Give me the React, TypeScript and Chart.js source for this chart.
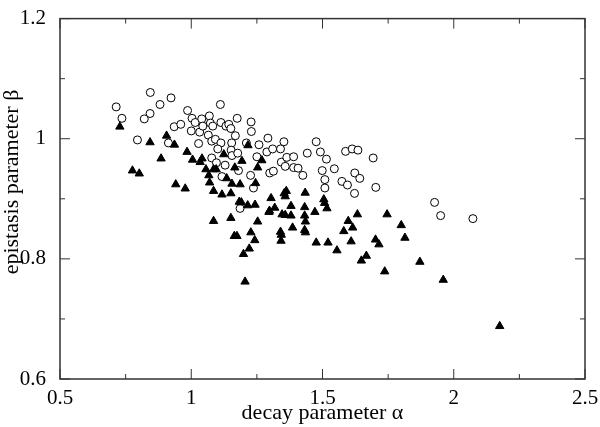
import { useEffect, useRef } from "react"
import { Chart, registerables } from "chart.js"

Chart.register(...registerables)

// open circles
const circleAlpha = [
  0.714, 0.736, 0.844, 0.843, 0.821, 0.881, 0.923, 0.795, 0.913, 0.935, 0.96, 0.986,
  1.003, 1.0, 1.015, 1.04, 1.032, 1.028, 1.044, 1.069, 1.073, 1.082, 1.065, 1.078,
  1.092, 1.111, 1.113, 1.132, 1.143, 1.151, 1.113, 1.101, 1.154, 1.168, 1.175, 1.078,
  1.096, 1.152, 1.155, 1.177, 1.18, 1.117, 1.129, 1.21, 1.228, 1.229, 1.258, 1.25,
  1.226, 1.237, 1.292, 1.288, 1.31, 1.34, 1.353, 1.343, 1.364, 1.358, 1.39, 1.39,
  1.407, 1.425, 1.299, 1.313, 1.186, 1.442, 1.476, 1.492, 1.515, 1.499, 1.545, 1.509,
  1.509, 1.574, 1.595, 1.588, 1.613, 1.635, 1.623, 1.642, 1.622, 1.693, 1.703, 1.927,
  1.95, 2.073,
]
const circleBeta = [
  1.053, 1.034, 1.077, 1.042, 1.033, 1.057, 1.068, 0.998, 0.993, 1.02, 1.024, 1.047,
  1.034, 1.013, 1.027, 1.033, 1.011, 0.992, 1.021, 1.038, 1.026, 1.021, 1.006, 0.996,
  0.999, 1.057, 1.027, 1.021, 1.024, 1.017, 0.993, 0.983, 0.993, 1.005, 1.034, 0.968,
  0.96, 0.981, 0.972, 0.976, 0.947, 0.937, 0.956, 0.993, 1.028, 1.012, 0.99, 0.97,
  0.939, 0.918, 1.001, 0.978, 0.983, 0.983, 0.995, 0.961, 0.969, 0.954, 0.97, 0.952,
  0.951, 0.939, 0.943, 0.946, 0.884, 0.976, 0.995, 0.978, 0.966, 0.947, 0.95, 0.932,
  0.918, 0.929, 0.923, 0.979, 0.983, 0.981, 0.943, 0.934, 0.909, 0.968, 0.919, 0.894,
  0.872, 0.867,
]

// filled triangles
const triAlpha = [
  0.728, 0.776, 0.802, 0.843, 0.885, 0.906, 0.936, 0.941, 0.977, 0.984, 1.005, 1.034,
  1.041, 1.056, 1.067, 1.07, 1.085, 1.085, 1.095, 1.117, 1.124, 1.135, 1.151, 1.155,
  1.166, 1.186, 1.193, 1.183, 1.191, 1.216, 1.215, 1.243, 1.245, 1.253, 1.269, 1.085,
  1.151, 1.164, 1.174, 1.227, 1.242, 1.253, 1.221, 1.199, 1.205, 1.298, 1.304, 1.318,
  1.296, 1.34, 1.343, 1.342, 1.346, 1.354, 1.362, 1.358, 1.358, 1.38, 1.38, 1.386,
  1.434, 1.432, 1.432, 1.435, 1.432, 1.435, 1.471, 1.476, 1.505, 1.508, 1.517, 1.521,
  1.555, 1.581, 1.598, 1.615, 1.609, 1.633, 1.648, 1.667, 1.702, 1.715, 1.746, 1.737,
  1.8, 1.814, 1.871, 1.96, 2.175,
]
const triBeta = [
  1.02, 0.947, 0.942, 0.994, 0.967, 1.005, 0.99, 0.924, 0.917, 0.978, 0.965, 0.961,
  0.967, 0.949, 0.939, 0.927, 0.949, 0.913, 0.949, 0.907, 0.974, 0.934, 0.909, 0.925,
  0.952, 0.924, 0.963, 0.895, 0.894, 0.989, 0.889, 0.89, 0.926, 0.952, 0.964, 0.863,
  0.868, 0.838, 0.838, 0.844, 0.831, 0.862, 0.817, 0.808, 0.762, 0.88, 0.901, 0.885,
  0.878, 0.845, 0.84, 0.83, 0.874, 0.909, 0.913, 0.904, 0.873, 0.888, 0.872, 0.852,
  0.91, 0.886, 0.872, 0.862, 0.848, 0.844, 0.878, 0.827, 0.899, 0.893, 0.884, 0.827,
  0.814, 0.846, 0.863, 0.852, 0.829, 0.874, 0.797, 0.805, 0.832, 0.824, 0.874, 0.779,
  0.856, 0.835, 0.795, 0.765, 0.688,
]

const xMajor = [0.5, 1, 1.5, 2, 2.5]
const xMinor = [0.75, 1.25, 1.75, 2.25]
const yMajor = [0.6, 0.8, 1, 1.2]
const yMinor = [0.7, 0.9, 1.1]

const xTitle = "decay parameter α"
const yTitle = "epistasis parameter β"

const SERIF = "'Liberation Serif', 'DejaVu Serif', serif"
const INK = "#333"

const toPoints = (xs: number[], ys: number[]) => xs.map((x, i) => ({ x, y: ys[i] }))

// frame with inward ticks on all four sides, plus axis titles
const framePlugin = {
  id: "frame",
  afterDraw(chart: Chart) {
    const { ctx, chartArea: a, scales } = chart
    const xs = scales.x
    const ys = scales.y
    ctx.save()
    ctx.strokeStyle = INK
    ctx.lineWidth = 1.5
    ctx.strokeRect(a.left, a.top, a.right - a.left, a.bottom - a.top)
    ctx.lineWidth = 1
    ctx.beginPath()
    const xt = (v: number, len: number) => {
      const px = xs.getPixelForValue(v)
      ctx.moveTo(px, a.bottom)
      ctx.lineTo(px, a.bottom - len)
      ctx.moveTo(px, a.top)
      ctx.lineTo(px, a.top + len)
    }
    const yt = (v: number, len: number) => {
      const py = ys.getPixelForValue(v)
      ctx.moveTo(a.left, py)
      ctx.lineTo(a.left + len, py)
      ctx.moveTo(a.right, py)
      ctx.lineTo(a.right - len, py)
    }
    xMajor.forEach((v) => xt(v, 10))
    xMinor.forEach((v) => xt(v, 5))
    yMajor.forEach((v) => yt(v, 10))
    yMinor.forEach((v) => yt(v, 5))
    ctx.stroke()

    ctx.fillStyle = "#000"
    ctx.font = `22px ${SERIF}`
    ctx.textAlign = "center"
    ctx.textBaseline = "alphabetic"
    ctx.fillText(xTitle, (a.left + a.right) / 2, 419)
    ctx.translate(18, 182)
    ctx.rotate(-Math.PI / 2)
    ctx.fillText(yTitle, 0, 0)
    ctx.restore()
  },
}

export default function App() {
  const canvasRef = useRef<HTMLCanvasElement | null>(null)

  useEffect(() => {
    const el = canvasRef.current
    if (!el) return
    const chart = new Chart(el, {
      type: "scatter",
      data: {
        datasets: [
          {
            label: "triangles",
            data: toPoints(triAlpha, triBeta),
            pointStyle: "triangle",
            pointRadius: 4.8,
            backgroundColor: "#000",
            borderColor: "#000",
            borderWidth: 1,
          },
          {
            label: "circles",
            data: toPoints(circleAlpha, circleBeta),
            pointStyle: "circle",
            pointRadius: 4,
            backgroundColor: "#fff",
            borderColor: "#000",
            borderWidth: 1,
          },
        ],
      },
      options: {
        animation: false,
        responsive: true,
        maintainAspectRatio: false,
        layout: { padding: { top: 13, right: 15, left: 0, bottom: 0 } },
        plugins: { legend: { display: false }, tooltip: { enabled: false } },
        scales: {
          x: {
            type: "linear",
            min: 0.5,
            max: 2.5,
            grid: { display: false },
            border: { display: false },
            ticks: {
              stepSize: 0.5,
              autoSkip: false,
              maxRotation: 0,
              padding: -1,
              color: "#000",
              font: { family: SERIF, size: 21 },
              callback: (v) => String(Number(Number(v).toFixed(2))),
            },
            afterFit: (s) => {
              s.height = 48
            },
          },
          y: {
            type: "linear",
            min: 0.6,
            max: 1.2,
            grid: { display: false },
            border: { display: false },
            ticks: {
              stepSize: 0.2,
              autoSkip: false,
              padding: 6,
              color: "#000",
              font: { family: SERIF, size: 21 },
              callback: (v) => String(Number(Number(v).toFixed(2))),
            },
            afterFit: (s) => {
              s.width = 60
            },
          },
        },
      },
      plugins: [framePlugin],
    })
    return () => chart.destroy()
  }, [])

  return (
    <div style={{ position: "fixed", left: 0, top: 0, width: 600, height: 427, background: "#fff" }}>
      <canvas ref={canvasRef} />
    </div>
  )
}
